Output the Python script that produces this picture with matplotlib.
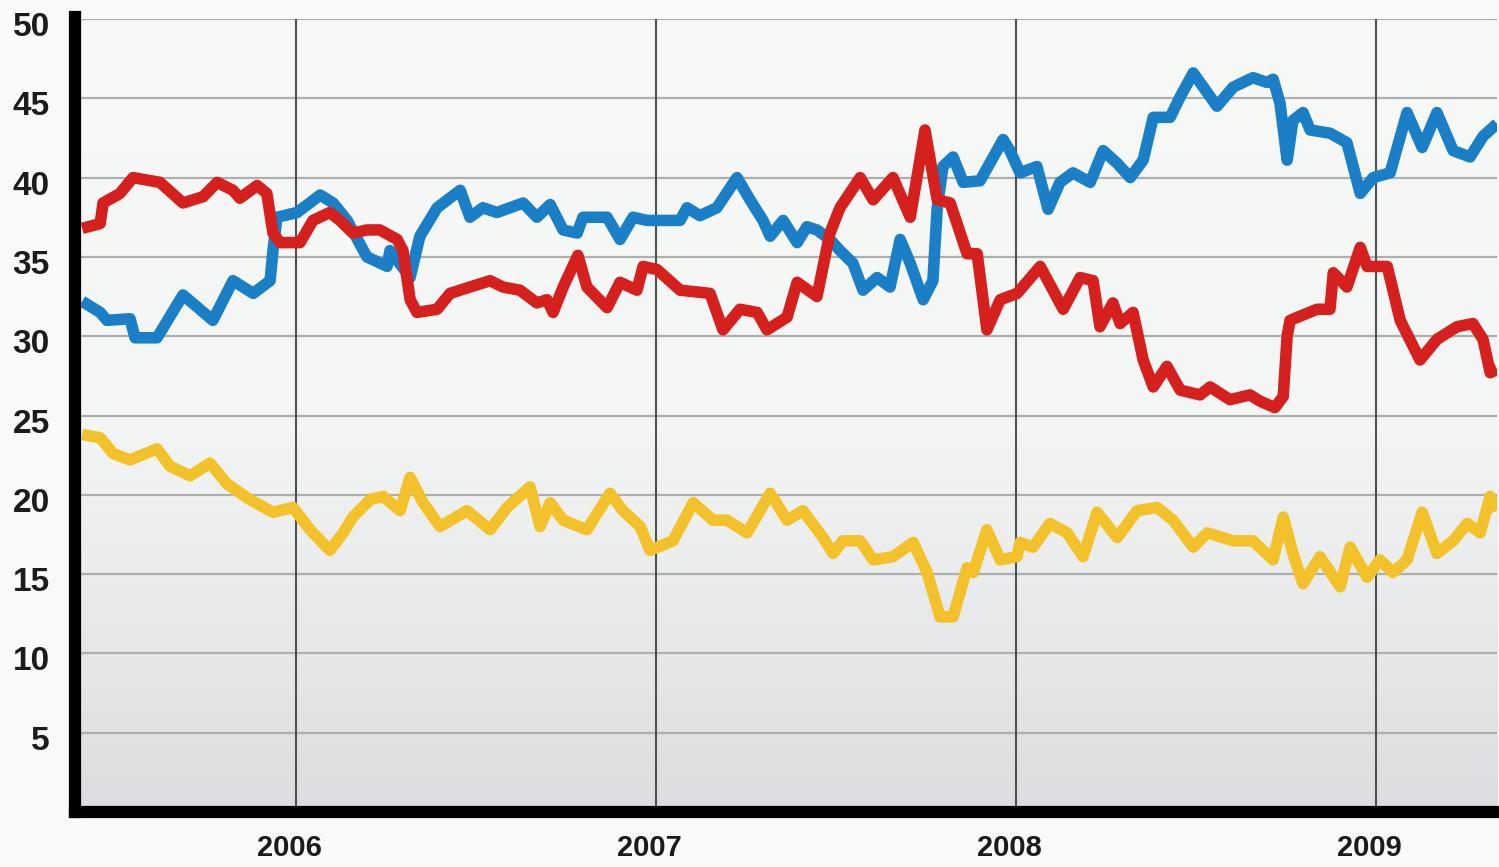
import numpy as np
import matplotlib
matplotlib.use("Agg")
import matplotlib.pyplot as plt
import matplotlib.transforms as mtransforms
from matplotlib.colors import LinearSegmentedColormap

# poll series, x in decimal years
blue_x = [2005.406, 2005.456, 2005.475, 2005.539, 2005.553, 2005.614, 2005.686, 2005.769,
          2005.825, 2005.881, 2005.928, 2005.936, 2005.947, 2006.003, 2006.067, 2006.103,
          2006.142, 2006.197, 2006.253, 2006.261, 2006.317, 2006.344, 2006.392, 2006.456,
          2006.483, 2006.519, 2006.558, 2006.631, 2006.669, 2006.706, 2006.742, 2006.781,
          2006.797, 2006.864, 2006.900, 2006.936, 2006.975, 2007.067, 2007.086, 2007.122,
          2007.169, 2007.225, 2007.261, 2007.297, 2007.317, 2007.353, 2007.392, 2007.419,
          2007.447, 2007.483, 2007.511, 2007.547, 2007.575, 2007.614, 2007.650, 2007.678,
          2007.706, 2007.742, 2007.769, 2007.781, 2007.797, 2007.825, 2007.853, 2007.900,
          2007.964, 2007.983, 2008.011, 2008.058, 2008.089, 2008.122, 2008.158, 2008.206,
          2008.242, 2008.281, 2008.317, 2008.353, 2008.381, 2008.428, 2008.456, 2008.492,
          2008.558, 2008.603, 2008.658, 2008.697, 2008.714, 2008.733, 2008.753, 2008.769,
          2008.797, 2008.817, 2008.872, 2008.919, 2008.956, 2008.992, 2009.039, 2009.086,
          2009.128, 2009.169, 2009.214, 2009.261, 2009.297, 2009.336]
blue_y = [32.2, 31.5, 31.0, 31.1, 29.9, 29.9, 32.6, 31.0,
          33.5, 32.7, 33.5, 35.4, 37.5, 37.8, 38.9, 38.4,
          37.3, 35.0, 34.4, 35.4, 33.7, 36.3, 38.1, 39.2,
          37.5, 38.1, 37.8, 38.4, 37.5, 38.3, 36.7, 36.5,
          37.5, 37.5, 36.1, 37.5, 37.3, 37.3, 38.1, 37.6,
          38.1, 40.0, 38.6, 37.3, 36.3, 37.3, 35.9, 36.9,
          36.7, 36.1, 35.4, 34.6, 32.9, 33.7, 33.1, 36.1,
          34.6, 32.3, 33.5, 38.1, 40.7, 41.3, 39.7, 39.8,
          42.4, 41.7, 40.3, 40.7, 38.0, 39.7, 40.3, 39.7,
          41.7, 40.9, 40.0, 41.1, 43.8, 43.8, 45.1, 46.6,
          44.5, 45.7, 46.3, 46.0, 46.2, 44.7, 41.1, 43.6,
          44.1, 43.0, 42.8, 42.2, 39.0, 40.0, 40.3, 44.1,
          41.9, 44.1, 41.7, 41.3, 42.6, 43.4]

red_x = [2005.406, 2005.456, 2005.464, 2005.511, 2005.547, 2005.622, 2005.686, 2005.742,
         2005.781, 2005.825, 2005.844, 2005.892, 2005.919, 2005.936, 2005.956, 2006.011,
         2006.047, 2006.094, 2006.122, 2006.158, 2006.197, 2006.233, 2006.281, 2006.297,
         2006.317, 2006.336, 2006.392, 2006.428, 2006.483, 2006.539, 2006.575, 2006.622,
         2006.669, 2006.697, 2006.714, 2006.742, 2006.783, 2006.808, 2006.864, 2006.900,
         2006.947, 2006.964, 2007.003, 2007.067, 2007.150, 2007.186, 2007.233, 2007.281,
         2007.308, 2007.364, 2007.392, 2007.447, 2007.483, 2007.511, 2007.567, 2007.603,
         2007.658, 2007.706, 2007.747, 2007.781, 2007.817, 2007.864, 2007.892, 2007.919,
         2007.956, 2008.003, 2008.067, 2008.131, 2008.178, 2008.214, 2008.233, 2008.269,
         2008.289, 2008.325, 2008.353, 2008.381, 2008.419, 2008.456, 2008.511, 2008.539,
         2008.594, 2008.650, 2008.678, 2008.719, 2008.742, 2008.753, 2008.761, 2008.836,
         2008.872, 2008.881, 2008.919, 2008.956, 2008.975, 2009.031, 2009.067, 2009.122,
         2009.169, 2009.225, 2009.269, 2009.297, 2009.317, 2009.336]
red_y = [36.8, 37.1, 38.4, 39.0, 40.0, 39.7, 38.4, 38.8,
         39.7, 39.2, 38.7, 39.5, 39.0, 36.5, 35.9, 35.9,
         37.3, 37.8, 37.3, 36.5, 36.7, 36.7, 36.1, 35.4,
         32.3, 31.5, 31.7, 32.7, 33.1, 33.5, 33.1, 32.9,
         32.1, 32.3, 31.5, 33.1, 35.1, 33.1, 31.8, 33.4,
         32.9, 34.4, 34.2, 32.9, 32.7, 30.4, 31.7, 31.5,
         30.4, 31.2, 33.4, 32.5, 36.5, 38.1, 40.0, 38.6,
         40.0, 37.5, 43.0, 38.6, 38.4, 35.2, 35.2, 30.4,
         32.3, 32.7, 34.4, 31.7, 33.7, 33.5, 30.6, 32.1,
         30.8, 31.5, 28.5, 26.8, 28.1, 26.6, 26.3, 26.8,
         26.0, 26.3, 25.9, 25.5, 26.2, 30.0, 31.0, 31.7,
         31.7, 34.0, 33.1, 35.6, 34.4, 34.4, 31.0, 28.5,
         29.8, 30.6, 30.8, 29.8, 27.7, 27.9]

yellow_x = [2005.406, 2005.456, 2005.492, 2005.539, 2005.614, 2005.650, 2005.706, 2005.761,
            2005.808, 2005.872, 2005.936, 2005.992, 2006.039, 2006.094, 2006.131, 2006.158,
            2006.206, 2006.242, 2006.289, 2006.317, 2006.353, 2006.400, 2006.475, 2006.539,
            2006.586, 2006.650, 2006.678, 2006.706, 2006.742, 2006.808, 2006.872, 2006.908,
            2006.956, 2006.983, 2007.047, 2007.103, 2007.158, 2007.197, 2007.253, 2007.317,
            2007.364, 2007.408, 2007.464, 2007.492, 2007.519, 2007.567, 2007.603, 2007.658,
            2007.714, 2007.753, 2007.789, 2007.825, 2007.864, 2007.881, 2007.919, 2007.956,
            2008.003, 2008.011, 2008.047, 2008.094, 2008.142, 2008.186, 2008.225, 2008.281,
            2008.336, 2008.392, 2008.436, 2008.492, 2008.531, 2008.603, 2008.658, 2008.714,
            2008.742, 2008.769, 2008.797, 2008.844, 2008.900, 2008.928, 2008.975, 2009.011,
            2009.047, 2009.086, 2009.128, 2009.169, 2009.214, 2009.253, 2009.289, 2009.317,
            2009.336]
yellow_y = [23.8, 23.6, 22.6, 22.2, 22.9, 21.8, 21.2, 22.0,
            20.7, 19.7, 18.9, 19.2, 17.8, 16.5, 17.6, 18.6,
            19.7, 19.9, 19.0, 21.1, 19.5, 18.0, 19.0, 17.8,
            19.2, 20.5, 18.0, 19.5, 18.4, 17.8, 20.1, 19.0,
            18.0, 16.5, 17.1, 19.5, 18.4, 18.4, 17.6, 20.1,
            18.4, 19.0, 17.3, 16.3, 17.1, 17.1, 15.9, 16.1,
            17.0, 15.1, 12.3, 12.3, 15.4, 15.1, 17.8, 15.9,
            16.1, 17.0, 16.7, 18.2, 17.6, 16.1, 18.9, 17.3,
            19.0, 19.2, 18.4, 16.7, 17.6, 17.1, 17.1, 15.9,
            18.6, 16.3, 14.4, 16.1, 14.2, 16.7, 14.8, 15.9,
            15.1, 15.9, 18.9, 16.3, 17.1, 18.2, 17.6, 19.9,
            19.0]

years = [2006, 2007, 2008, 2009]
y_ticks = [5, 10, 15, 20, 25, 30, 35, 40, 45, 50]

x_min, x_max = 2005.386, 2009.336

fig = plt.figure(figsize=(14.99, 8.67), dpi=100, facecolor="#f8f9f8")
ax = fig.add_axes([0.0500, 0.0634, 0.9487, 0.9147])

# soft gray gradient background
cmap = LinearSegmentedColormap.from_list("bg", [(0, "#dcdde0"), (0.5, "#f4f6f5"), (1, "#f7f9f7")])
grad = np.linspace(0, 1, 256).reshape(-1, 1)
ax.imshow(grad, cmap=cmap, aspect="auto", origin="lower",
          extent=[x_min, x_max, 0, 50], zorder=0)

for v in y_ticks:
    ax.axhline(v, color="#aeb0ae", lw=1.6, zorder=1)
for yr in years:
    ax.axvline(yr, color="#505250", lw=1.5, zorder=1)

line_kw = dict(lw=8.3, solid_joinstyle="round", solid_capstyle="butt")
ax.plot(yellow_x, yellow_y, color="#f3c22a", zorder=3, **line_kw)
ax.plot(blue_x, blue_y, color="#1a7fc6", zorder=4, **line_kw)
ax.plot(red_x, red_y, color="#d5201e", zorder=5, **line_kw)

ax.set_xlim(x_min, x_max)
ax.set_ylim(0, 50)

for s in ["top", "right"]:
    ax.spines[s].set_visible(False)
for s in ["left", "bottom"]:
    ax.spines[s].set_linewidth(8.8)
    ax.spines[s].set_color("black")
    ax.spines[s].set_zorder(6)
ax.spines["left"].set_bounds(0, 50.1)

ax.set_yticks(y_ticks)
ax.set_yticklabels([str(v) for v in y_ticks])
ax.set_xticks(years)
ax.set_xticklabels([str(y) for y in years])
ax.tick_params(axis="both", length=0)
ax.tick_params(axis="y", pad=18)
ax.tick_params(axis="x", pad=16)

for lab in ax.get_yticklabels():
    lab.set_fontfamily("Liberation Sans")
    lab.set_fontweight("bold")
    lab.set_fontsize(24)
    lab.set_color("#1c1c1c")
    lab.set_transform(lab.get_transform() + mtransforms.ScaledTranslation(0, -5 / 100, fig.dpi_scale_trans))
for lab in ax.get_xticklabels():
    lab.set_fontfamily("Liberation Sans")
    lab.set_fontweight("bold")
    lab.set_fontsize(21)
    lab.set_color("#1c1c1c")
    lab.set_transform(lab.get_transform() + mtransforms.ScaledTranslation(-7 / 100, 0, fig.dpi_scale_trans))

fig.savefig("out.png", dpi=100, facecolor=fig.get_facecolor())
